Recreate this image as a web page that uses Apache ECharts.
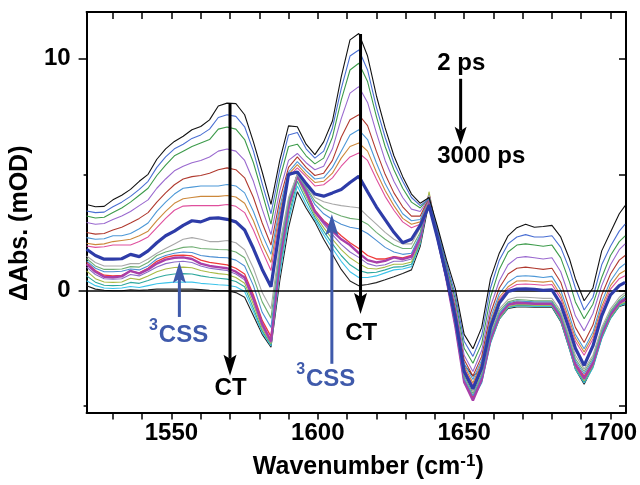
<!DOCTYPE html>
<html><head><meta charset="utf-8">
<script src="https://cdn.jsdelivr.net/npm/echarts@6/dist/echarts.min.js"></script>
<style>html,body{margin:0;padding:0;background:#fff}#c{width:640px;height:485px}</style>
</head><body><div id="c"></div>
<script>
// ---------- data ----------
const wavenumber = [1521,1524,1527,1530,1533,1536,1539,1542,1545,1548,1551,1554,1557,1560,1563,1566,1569,1572,1575,1578,1581,1584,1587,1590,1593,1596,1599,1602,1605,1608,1611,1614,1617,1620,1623,1626,1629,1632,1635,1638,1641,1644,1647,1650,1653,1656,1659,1662,1665,1668,1671,1674,1677,1680,1683,1686,1688,1691,1694,1697,1700,1703,1705];

const t01_2ps = [3.70,3.60,3.62,3.90,4.10,4.35,4.70,5.00,5.65,6.10,6.42,6.64,6.92,7.06,7.35,7.95,8.07,8.05,7.57,6.40,5.10,3.70,5.60,7.09,7.05,6.30,5.85,6.40,7.30,9.20,10.80,11.07,10.10,8.40,7.00,5.80,4.90,4.15,3.75,4.00,2.70,1.30,0.06,-1.90,-2.52,-1.60,0.50,1.60,2.35,2.70,2.85,2.72,2.75,2.80,2.30,1.35,0.50,-0.45,0.10,1.70,2.50,3.30,3.65];
const t02 = [3.42,3.35,3.37,3.60,3.80,4.05,4.35,4.70,5.30,5.75,6.10,6.30,6.55,6.70,6.95,7.45,7.57,7.50,7.05,6.00,4.60,3.30,5.20,6.70,6.80,6.10,5.70,6.00,7.00,8.70,10.10,10.36,9.50,7.90,6.60,5.50,4.70,4.00,3.65,3.95,2.60,1.15,-0.20,-2.20,-2.85,-1.95,0.10,1.30,2.00,2.30,2.40,2.30,2.30,2.35,1.85,0.90,0.10,-0.85,-0.30,1.10,1.90,2.55,2.85];
const t03 = [3.20,3.12,3.15,3.35,3.55,3.80,4.10,4.40,4.95,5.40,5.80,6.00,6.20,6.35,6.50,6.95,7.04,6.95,6.50,5.50,4.20,2.85,4.80,6.20,6.30,5.80,5.45,5.70,6.60,8.20,9.50,9.79,9.00,7.50,6.20,5.20,4.40,3.80,3.55,4.00,2.55,1.05,-0.40,-2.50,-3.15,-2.30,-0.30,0.90,1.65,1.95,2.00,1.95,1.90,1.95,1.40,0.35,-0.50,-1.23,-0.60,0.55,1.50,2.10,2.35];
const t04 = [2.92,2.85,2.88,3.05,3.20,3.40,3.65,3.90,4.40,4.80,5.15,5.35,5.50,5.60,5.75,6.00,6.09,6.00,5.60,4.70,3.50,2.40,4.30,5.60,5.90,5.50,5.20,5.35,6.10,7.40,8.50,8.78,8.10,6.80,5.60,4.70,4.00,3.50,3.40,4.00,2.50,0.95,-0.60,-2.80,-3.50,-2.60,-0.70,0.40,1.10,1.40,1.45,1.40,1.35,1.40,0.80,-0.30,-1.10,-1.75,-1.00,0.20,1.10,1.75,2.00];
const t05 = [2.49,2.42,2.45,2.60,2.72,2.90,3.10,3.35,3.80,4.20,4.55,4.80,4.90,4.95,5.05,5.20,5.28,5.20,4.85,4.00,2.90,1.95,3.90,5.30,5.75,5.30,4.95,5.05,5.60,6.60,7.35,7.57,7.10,6.00,5.00,4.20,3.60,3.20,3.20,4.00,2.45,0.90,-0.75,-3.00,-3.70,-2.85,-1.00,0.10,0.70,0.95,1.00,0.95,0.90,0.95,0.35,-0.80,-1.60,-2.25,-1.50,-0.20,0.70,1.30,1.50];
const t06 = [2.27,2.20,2.22,2.35,2.35,2.45,2.65,2.90,3.40,3.80,4.15,4.40,4.45,4.50,4.50,4.50,4.56,4.50,4.20,3.40,2.40,1.55,3.60,5.10,5.55,5.15,4.80,4.85,5.30,6.00,6.70,6.92,6.50,5.50,4.60,3.90,3.30,3.00,3.05,4.00,2.40,0.85,-0.85,-3.15,-3.85,-3.00,-1.20,-0.15,0.35,0.60,0.63,0.60,0.55,0.60,0.00,-1.10,-1.90,-2.52,-1.80,-0.50,0.40,0.95,1.15];
const t07 = [2.03,1.97,2.00,2.10,2.15,2.20,2.35,2.55,3.00,3.40,3.75,3.95,4.00,4.05,4.05,4.05,4.09,4.02,3.75,3.00,2.00,1.20,3.40,5.00,5.42,5.00,4.65,4.70,5.05,5.70,6.20,6.35,6.00,5.10,4.30,3.65,3.10,2.85,2.95,4.00,2.40,0.80,-0.95,-3.25,-4.00,-3.10,-1.35,-0.30,0.15,0.40,0.41,0.38,0.35,0.40,-0.20,-1.30,-2.05,-2.66,-1.95,-0.70,0.20,0.70,0.85];
const t08 = [1.91,1.85,1.88,1.95,1.95,1.95,2.10,2.30,2.70,3.10,3.45,3.63,3.65,3.65,3.65,3.65,3.70,3.62,3.35,2.60,1.70,0.85,3.20,4.90,5.28,4.90,4.50,4.55,4.85,5.35,5.75,5.92,5.60,4.80,4.05,3.45,2.95,2.70,2.85,4.00,2.35,0.75,-1.00,-3.35,-4.10,-3.20,-1.45,-0.40,0.05,0.25,0.27,0.25,0.22,0.25,-0.35,-1.45,-2.20,-2.80,-2.10,-0.85,0.05,0.50,0.63];
const t09 = [1.77,1.50,1.34,1.34,1.36,1.55,1.45,1.70,2.05,2.35,2.55,2.80,3.00,2.95,3.10,3.12,3.06,2.95,2.60,1.80,0.90,0.15,2.70,5.00,5.10,4.60,4.15,4.06,4.20,4.35,4.65,4.92,4.25,3.60,3.05,2.50,2.05,2.20,2.80,3.65,2.20,0.60,-1.20,-3.50,-4.25,-3.35,-1.60,-0.55,-0.05,0.05,0.06,0.04,0.00,0.02,-0.60,-1.70,-2.50,-3.24,-2.40,-1.10,-0.20,0.20,0.34];
const t10 = [1.48,1.20,1.05,1.05,1.05,1.15,1.15,1.35,1.60,1.80,2.00,2.20,2.27,2.20,2.10,2.10,2.15,2.05,1.75,0.95,-0.10,-0.80,2.00,4.00,5.00,4.50,4.00,3.82,3.72,3.65,3.60,3.56,3.20,2.85,2.50,2.20,2.00,2.00,2.70,4.10,2.30,0.60,-1.30,-3.60,-4.35,-3.50,-1.80,-0.80,-0.40,-0.30,-0.30,-0.32,-0.35,-0.35,-0.90,-2.00,-2.80,-3.40,-2.80,-1.60,-0.80,-0.30,-0.10];
const t11 = [1.37,1.05,0.90,0.90,0.92,1.02,1.00,1.20,1.50,1.65,1.75,1.85,1.88,1.80,1.78,1.76,1.75,1.65,1.40,0.55,-0.50,-1.20,1.80,3.90,5.00,4.45,3.85,3.55,3.35,3.20,3.10,3.05,2.85,2.50,2.20,1.95,1.80,1.80,2.50,4.10,2.30,0.55,-1.40,-3.70,-4.45,-3.60,-1.90,-0.90,-0.50,-0.40,-0.42,-0.45,-0.45,-0.45,-1.00,-2.10,-2.95,-3.50,-2.90,-1.70,-0.90,-0.40,-0.20];
const t12 = [1.27,0.95,0.80,0.80,0.82,0.92,0.88,1.05,1.35,1.50,1.60,1.65,1.63,1.50,1.45,1.42,1.40,1.30,1.05,0.20,-0.95,-1.60,1.60,3.80,5.00,4.40,3.70,3.30,3.05,2.85,2.72,2.65,2.45,2.15,1.85,1.65,1.55,1.60,2.40,4.10,2.25,0.50,-1.45,-3.80,-4.55,-3.70,-2.00,-1.00,-0.55,-0.45,-0.48,-0.50,-0.50,-0.50,-1.05,-2.20,-3.05,-3.60,-3.00,-1.80,-0.95,-0.45,-0.30];
const t13 = [1.20,0.85,0.65,0.62,0.64,0.82,0.75,0.95,1.25,1.42,1.50,1.52,1.48,1.30,1.20,1.15,1.10,0.95,0.70,-0.20,-1.30,-2.00,1.40,3.70,5.00,4.30,3.45,3.00,2.70,2.35,2.05,1.80,1.50,1.35,1.35,1.45,1.40,1.50,2.30,4.10,2.25,0.50,-1.50,-3.85,-4.60,-3.75,-2.05,-1.05,-0.60,-0.50,-0.52,-0.55,-0.55,-0.55,-1.10,-2.30,-3.15,-3.70,-3.10,-1.85,-1.00,-0.50,-0.35];
const t14 = [1.13,0.80,0.58,0.56,0.60,0.84,0.72,0.90,1.15,1.32,1.40,1.42,1.35,1.15,1.05,1.00,0.95,0.80,0.55,-0.35,-1.45,-2.20,1.30,3.60,4.95,4.25,3.40,2.95,2.55,2.20,1.95,1.60,1.30,1.20,1.27,1.42,1.34,1.45,2.30,4.05,2.20,0.45,-1.55,-3.95,-4.75,-3.85,-2.10,-1.10,-0.62,-0.55,-0.55,-0.58,-0.58,-0.58,-1.15,-2.35,-3.20,-3.80,-3.15,-1.90,-1.05,-0.55,-0.40];
const t15 = [1.00,0.68,0.50,0.48,0.50,0.68,0.62,0.80,1.00,1.15,1.22,1.25,1.20,1.05,0.95,0.90,0.85,0.70,0.45,-0.45,-1.55,-2.25,1.20,3.50,4.90,4.15,3.35,2.85,2.40,1.98,1.65,1.42,1.15,1.05,1.10,1.25,1.25,1.35,2.15,4.00,2.20,0.45,-1.55,-3.90,-4.70,-3.90,-2.15,-1.15,-0.65,-0.58,-0.58,-0.60,-0.60,-0.60,-1.20,-2.40,-3.25,-3.85,-3.20,-1.95,-1.10,-0.58,-0.45];
const t16 = [0.84,0.50,0.36,0.34,0.36,0.52,0.46,0.62,0.80,0.92,0.98,1.00,0.97,0.85,0.78,0.72,0.68,0.55,0.30,-0.60,-1.65,-2.30,1.10,3.40,4.85,4.05,3.25,2.70,2.20,1.75,1.40,1.15,0.95,0.92,1.00,1.12,1.12,1.22,2.10,4.25,2.30,0.50,-1.50,-3.90,-4.60,-3.90,-2.20,-1.20,-0.70,-0.62,-0.62,-0.64,-0.64,-0.64,-1.25,-2.45,-3.30,-3.90,-3.25,-2.00,-1.15,-0.62,-0.50];
const t17 = [0.62,0.35,0.22,0.20,0.22,0.34,0.30,0.42,0.55,0.65,0.70,0.72,0.70,0.62,0.56,0.52,0.48,0.38,0.15,-0.78,-1.75,-2.35,0.90,3.20,4.70,3.90,3.15,2.55,2.00,1.50,1.10,0.85,0.75,0.78,0.88,1.00,1.02,1.12,2.05,4.10,2.20,0.45,-1.55,-3.95,-4.65,-3.95,-2.25,-1.22,-0.72,-0.65,-0.65,-0.67,-0.67,-0.67,-1.30,-2.50,-3.35,-3.95,-3.30,-2.05,-1.20,-0.66,-0.55];
const t18 = [0.41,0.20,0.10,0.08,0.10,0.16,0.12,0.20,0.28,0.32,0.35,0.36,0.35,0.30,0.27,0.24,0.22,0.15,-0.05,-0.92,-1.82,-2.40,0.70,3.00,4.50,3.70,3.05,2.40,1.80,1.25,0.80,0.55,0.55,0.62,0.75,0.88,0.92,1.02,2.00,4.00,2.15,0.40,-1.60,-4.00,-4.70,-4.00,-2.30,-1.25,-0.75,-0.68,-0.68,-0.70,-0.70,-0.70,-1.32,-2.55,-3.40,-4.00,-3.35,-2.10,-1.22,-0.68,-0.58];
const t19_3000ps = [0.20,0.05,0.00,-0.02,-0.02,0.02,0.00,0.02,0.05,0.05,0.05,0.05,0.05,0.03,0.00,-0.02,-0.02,-0.10,-0.30,-1.10,-1.90,-2.45,0.40,2.70,4.25,3.55,2.95,2.20,1.55,0.90,0.40,0.20,0.25,0.33,0.45,0.58,0.72,0.88,1.90,3.80,2.10,0.40,-1.50,-3.20,-3.70,-3.40,-2.20,-1.25,-0.78,-0.72,-0.72,-0.73,-0.73,-0.73,-1.35,-2.55,-3.40,-4.05,-3.30,-2.05,-1.20,-0.70,-0.62];

const xTickValues = [1530,1540,1550,1560,1570,1580,1590,1600,1610,1620,1630,1640,1650,1660,1670,1680,1690,1700];
const xLabelValues = [1550,1600,1650,1700];
const yMajorValues = [0,10];
const yMinorValues = [-5,5];

// annotations (data coordinates)
const arrowX    = [1570.0, 1614.6, 1552.7, 1604.8, 1648.8];
const arrowFrom = [8.08, 11.05, -1.15, -3.17, 9.12];
const arrowTo   = [-3.68, -1.02, 1.22, 3.28, 6.28];
const noteText  = ['CT', 'CT', '2 ps', '3000 ps'];
const noteX     = [1570.2, 1614.8, 1640.8, 1640.8];
const noteY     = [-4.22, -1.84, 9.79, 5.77];
const cssX      = [1554.1, 1604.4];
const cssY      = [-1.94, -3.85];

// ---------- styles ----------
const traces = [t19_3000ps,t18,t17,t16,t15,t13,t14,t12,t11,t10,t08,t07,t06,t05,t04,t03,t02,t01_2ps,t09];
const traceColors = ['#222222','#3cc3ea','#2ea89e','#a9ba46','#8c6cc6','#ef3a3a','#a93fa9','#4c8fd3','#6fae72','#a8a8a8','#df4f9d','#cc883b','#4d98d7','#b03a2f','#9a69cf','#3d9b4b','#4a6fd3','#111111','#2e3ca8'];
const traceWidths = [1.1,1.1,1.1,1.1,1.1,1.3,2.4,1.1,1.1,1.1,1.1,1.1,1.1,1.1,1.1,1.1,1.1,1.1,3.2];
const FONT = '"Liberation Sans", Arial, sans-serif';
const BLUE = '#3f5aab';

const series = traces.map((arr, i) => ({
  type: 'line',
  name: 'trace' + i,
  data: wavenumber.map((w, k) => [w, arr[k]]),
  symbol: 'none',
  showSymbol: false,
  lineStyle: { color: traceColors[i], width: traceWidths[i] },
  itemStyle: { color: traceColors[i] },
  z: i === traces.length - 1 ? 5 : 3,
  silent: true,
  animation: false
}));
series[0].markLine = {
  silent: true, symbol: ['none', 'none'], animation: false,
  label: { show: false },
  lineStyle: { color: '#000', width: 1.5, type: 'solid' },
  data: [{ yAxis: 0 }]
};

const xMin = 1521, xMax = 1705.3, yMin = -5.27, yMax = 12;
const axisLineStyle = { color: '#000', width: 2 };
const plain = v => String(Math.round(v));

const chart = echarts.init(document.getElementById('c'), null, { renderer: 'canvas' });
chart.setOption({
  backgroundColor: '#fff',
  animation: false,
  grid: { left: 80, right: 14, top: 12, bottom: 71, containLabel: false },
  xAxis: [
    {
      type: 'value', min: xMin, max: xMax, position: 'bottom',
      axisLine: { show: true, onZero: false, lineStyle: axisLineStyle },
      axisTick: { show: true, inside: false, length: 7, customValues: xTickValues, lineStyle: { color: '#000', width: 1.5 } },
      axisLabel: { customValues: xLabelValues, formatter: plain, color: '#000', fontSize: 24, fontWeight: 'bold', fontFamily: FONT, margin: 9 },
      splitLine: { show: false },
      name: '{a|Wavenumber (cm}{b|-1}{a|)}',
      nameLocation: 'middle', nameGap: 40,
      nameTextStyle: {
        padding: [0, 0, 0, 24],
        rich: {
          a: { fontSize: 25, fontWeight: 'bold', fontFamily: FONT, color: '#000', lineHeight: 30 },
          b: { fontSize: 17, fontWeight: 'bold', fontFamily: FONT, color: '#000', lineHeight: 8, verticalAlign: 'top' }
        }
      }
    },
    {
      type: 'value', min: xMin, max: xMax, position: 'top',
      axisLine: { show: true, onZero: false, lineStyle: axisLineStyle },
      axisTick: { show: true, inside: true, length: 7, customValues: xTickValues, lineStyle: { color: '#000', width: 1.5 } },
      axisLabel: { show: false }, splitLine: { show: false }
    }
  ],
  yAxis: [
    {
      type: 'value', min: yMin, max: yMax, position: 'left',
      axisLine: { show: true, onZero: false, lineStyle: axisLineStyle },
      axisTick: { show: true, inside: false, length: 8, customValues: yMajorValues, lineStyle: { color: '#000', width: 1.5 } },
      axisLabel: { customValues: yMajorValues, formatter: plain, color: '#000', fontSize: 24, fontWeight: 'bold', fontFamily: FONT, margin: 16 },
      splitLine: { show: false },
      name: 'ΔAbs. (mOD)', nameLocation: 'middle', nameGap: 46, nameRotate: 90,
      nameTextStyle: { color: '#000', fontSize: 25, fontWeight: 'bold', fontFamily: FONT, padding: [0, 22, 0, 0] }
    },
    {
      type: 'value', min: yMin, max: yMax, position: 'left',
      axisLine: { show: false },
      axisTick: { show: true, inside: false, length: 3, customValues: yMinorValues, lineStyle: { color: '#000', width: 1.5 } },
      axisLabel: { show: false }, splitLine: { show: false }
    },
    {
      type: 'value', min: yMin, max: yMax, position: 'right',
      axisLine: { show: true, onZero: false, lineStyle: axisLineStyle },
      axisTick: { show: true, inside: true, length: 7, customValues: [-5, 0, 5, 10], lineStyle: { color: '#000', width: 1.5 } },
      axisLabel: { show: false }, splitLine: { show: false }
    }
  ],
  series: series
});

// ---------- annotations ----------
function px(x, y) { return chart.convertToPixel({ xAxisIndex: 0, yAxisIndex: 0 }, [x, y]); }
const graphics = [];
arrowX.forEach((x, i) => {
  const color = (i === 2 || i === 3) ? BLUE : '#000';
  const a = px(x, arrowFrom[i]);
  const b = px(x, arrowTo[i]);
  const dir = b[1] > a[1] ? 1 : -1;
  const headL = i === 4 ? 18 : 21, headW = i === 4 ? 6 : 6.5;
  graphics.push({ type: 'line', z: 100, silent: true,
    shape: { x1: a[0], y1: a[1], x2: b[0], y2: b[1] - dir * (headL - 4) },
    style: { stroke: color, lineWidth: 3 } });
  graphics.push({ type: 'polygon', z: 101, silent: true,
    shape: { points: [[b[0], b[1]], [b[0] - headW, b[1] - dir * headL], [b[0], b[1] - dir * (headL - 4)], [b[0] + headW, b[1] - dir * headL]] },
    style: { fill: color } });
});
noteText.forEach((t, i) => {
  const p = px(noteX[i], noteY[i]);
  graphics.push({ type: 'text', z: 102, silent: true, x: p[0], y: p[1],
    style: { text: t, fill: '#000', font: 'bold 24px ' + FONT, align: i < 2 ? 'center' : 'left', verticalAlign: 'middle' } });
});
cssX.forEach((x, i) => {
  const p = px(x, cssY[i]);
  graphics.push({ type: 'text', z: 102, silent: true, x: p[0], y: p[1],
    style: { text: 'CSS', fill: BLUE, font: 'bold 24px ' + FONT, align: 'center', verticalAlign: 'middle' } });
  graphics.push({ type: 'text', z: 102, silent: true, x: p[0] - 30, y: p[1] - 10,
    style: { text: '3', fill: BLUE, font: 'bold 16px ' + FONT, align: 'center', verticalAlign: 'middle' } });
});
chart.setOption({ graphic: graphics });
</script>
</body></html>
